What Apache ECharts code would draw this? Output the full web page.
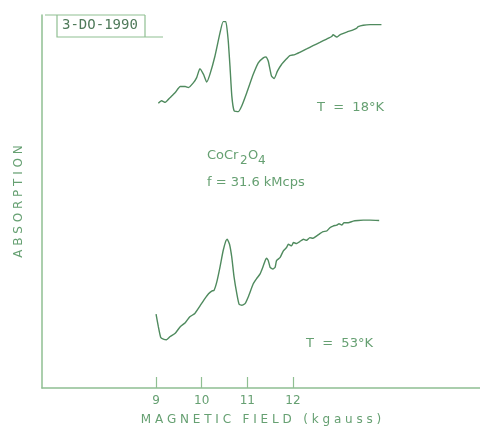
<!DOCTYPE html>
<html>
<head>
<meta charset="utf-8">
<script src="https://cdn.jsdelivr.net/npm/echarts@6/dist/echarts.min.js"></script>
<style>
html,body{margin:0;padding:0;background:#fff;}
#chart{width:480px;height:431px;}
</style>
</head>
<body>
<div id="chart"></div>
<script>
// Magnetic field (kgauss) and absorption (arbitrary units)
const fieldLow18 = [9.05,9.12,9.20,9.31,9.42,9.53,9.64,9.71,9.82,9.89,9.96,10.04,10.11,10.18,10.29,10.40,10.47,10.53,10.58,10.62,10.66,10.71,10.80,10.88,10.99,11.13,11.24,11.35,11.41,11.46,11.53,11.59,11.66,11.75,11.86,11.93,12.04,12.15,12.30,12.44,12.59,12.74,12.85,12.88,12.96,13.03,13.18,13.32,13.40,13.43,13.54,13.69,13.94];
const absorption18 = [287.7,290.3,288.7,293.7,298.7,304.7,304.7,303.7,308.7,313.7,322.7,317,309.3,317,335.3,358.7,370.3,370.3,352,325.3,295.3,280.3,279.3,285.3,298.7,317,328.7,333.7,334.7,330.3,315.3,312.7,320.3,327,332.7,336,337,339.3,342.7,346,349.3,352.7,355.3,357,354.7,357,359.7,362,363.7,365.3,366.7,367.3,367.3];

const field53 = [9.00,9.05,9.10,9.16,9.23,9.31,9.42,9.53,9.64,9.74,9.85,9.96,10.07,10.15,10.22,10.27,10.33,10.40,10.47,10.53,10.56,10.61,10.66,10.71,10.77,10.82,10.88,10.95,11.02,11.13,11.20,11.28,11.34,11.39,11.42,11.46,11.50,11.56,11.61,11.64,11.72,11.79,11.86,11.90,11.97,12.01,12.08,12.15,12.23,12.30,12.37,12.44,12.52,12.59,12.66,12.74,12.81,12.88,12.96,13.01,13.07,13.12,13.21,13.32,13.43,13.54,13.69,13.89];
const absorption53 = [74.7,62,51.3,49.3,48.7,52,55.3,62,66,72,75.3,82.7,90.3,95.3,98,98.7,107,122,138.7,148.7,150.3,145.3,132,112,95.3,84.7,83.7,85.3,92,105.3,110.3,115.3,122,128.7,131.3,128.7,122,120.3,122,128.7,132,138.7,142,145.3,143.7,147,146,148,150.3,149.3,152,151.3,153.7,156,158,158.7,162,163.7,164.7,166,164.7,167,167,168.7,169.3,169.7,169.7,169.3];

const tickValues = [9, 10, 11, 12];

const lineColor = '#4f8a5e';
const axisColor = '#8fbf92';
const textColor = '#66a072';
const font = 'DejaVu Sans';

const chart = echarts.init(document.getElementById('chart'));
chart.setOption({
  animation: false,
  backgroundColor: '#ffffff',
  grid: {left: 42, right: 0, top: 15, bottom: 39},
  xAxis: {
    type: 'value', min: 6.5, max: 16.1,
    splitLine: {show: false},
    axisLine: {lineStyle: {color: axisColor, width: 1.5}},
    axisTick: {show: true, inside: true, length: 11, customValues: tickValues, lineStyle: {color: axisColor, width: 1.2}},
    axisLabel: {customValues: tickValues, color: textColor, fontFamily: font, fontSize: 12, margin: 7},
    name: 'M A G N E T I C   F I E L D   ( k g a u s s )',
    nameLocation: 'middle', nameGap: 26,
    nameTextStyle: {color: textColor, fontFamily: font, fontSize: 12}
  },
  yAxis: {
    type: 'value', min: 0, max: 377,
    splitLine: {show: false},
    axisLine: {show: true, lineStyle: {color: axisColor, width: 1.5}},
    axisTick: {show: false},
    axisLabel: {show: false},
    name: 'A B S O R P T I O N',
    nameLocation: 'middle', nameGap: 17, nameRotate: 90,
    nameTextStyle: {color: textColor, fontFamily: font, fontSize: 12}
  },
  series: [
    {type: 'line', data: fieldLow18.map((x, i) => [x, absorption18[i]]), showSymbol: false, smooth: 0.15,
     lineStyle: {color: lineColor, width: 1.4}},
    {type: 'line', data: field53.map((x, i) => [x, absorption53[i]]), showSymbol: false, smooth: 0.15,
     lineStyle: {color: lineColor, width: 1.4}}
  ],
  graphic: [
    {type: 'polyline', shape: {points: [[45, 15], [145, 15]]}, style: {stroke: axisColor, lineWidth: 1.2, fill: null}},
    {type: 'polyline', shape: {points: [[57, 15], [57, 37], [163, 37]]}, style: {stroke: axisColor, lineWidth: 1.2, fill: null}},
    {type: 'polyline', shape: {points: [[145, 15], [145, 37]]}, style: {stroke: axisColor, lineWidth: 1.2, fill: null}},
    {type: 'text', left: 62, top: 18, style: {text: '3-DO-1990', fill: '#4f7a5a', font: '14px "DejaVu Sans Mono"'}},
    {type: 'text', left: 317, top: 101, style: {text: 'T  =  18°K', fill: textColor, font: '13px "DejaVu Sans"'}},
    {type: 'text', left: 207, top: 149, style: {text: 'CoCr', fill: textColor, font: '13px "DejaVu Sans"'}},
    {type: 'text', left: 240, top: 155, style: {text: '2', fill: textColor, font: '12px "DejaVu Sans"'}},
    {type: 'text', left: 248, top: 149, style: {text: 'O', fill: textColor, font: '13px "DejaVu Sans"'}},
    {type: 'text', left: 258, top: 155, style: {text: '4', fill: textColor, font: '12px "DejaVu Sans"'}},
    {type: 'text', left: 207, top: 176, style: {text: 'f = 31.6 kMcps', fill: textColor, font: '13px "DejaVu Sans"'}},
    {type: 'text', left: 306, top: 337, style: {text: 'T  =  53°K', fill: textColor, font: '13px "DejaVu Sans"'}}
  ]
});
</script>
</body>
</html>
